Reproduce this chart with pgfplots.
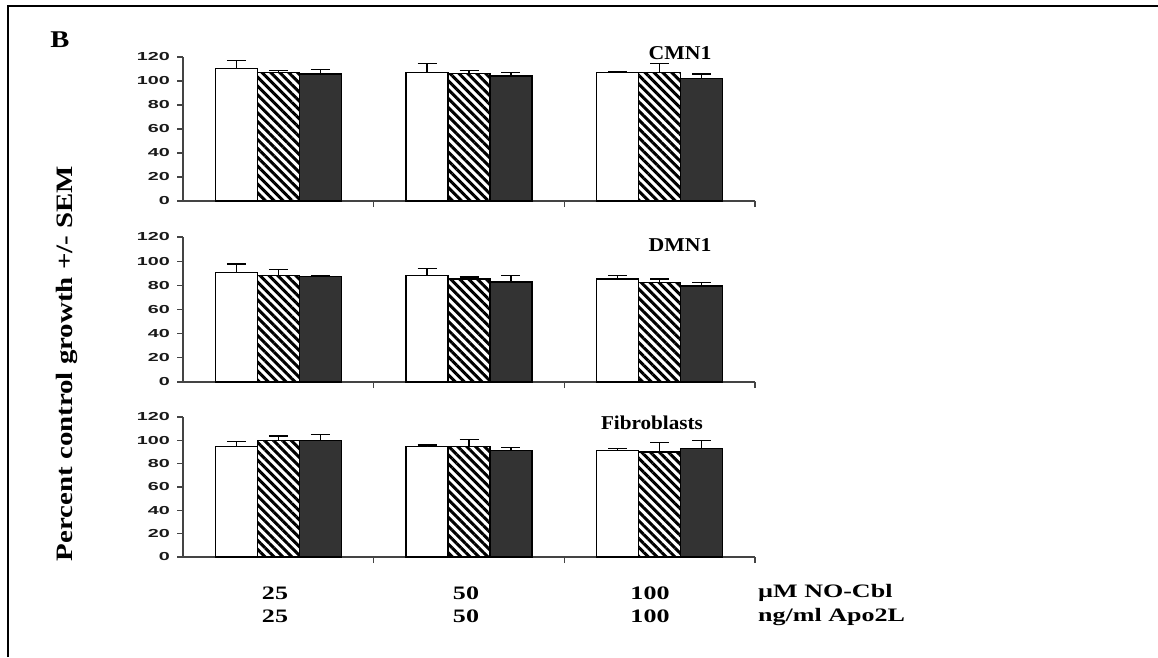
\documentclass[border=0pt]{standalone}
\usepackage{fontspec}
\setmainfont{Liberation Serif}
\newfontfamily\arialf{Liberation Sans}
\usepackage{pgfplots}
\pgfplotsset{compat=1.18}
\usetikzlibrary{patterns.meta}

\pgfplotstableread{
x y e
-0.22 110.6 6.4
0.78 107.2 7.2
1.78 107.2 0.6
}\cmnA
\pgfplotstableread{
x y e
0 107.2 1.4
1 106.4 2.2
2 107.2 7.2
}\cmnB
\pgfplotstableread{
x y e
0.22 105.8 3.6
1.22 104.2 2.7
2.22 102.2 3.6
}\cmnC

\pgfplotstableread{
x y e
-0.22 90.8 6.9
0.78 88.0 5.8
1.78 85.3 2.7
}\dmnA
\pgfplotstableread{
x y e
0 88.0 5.0
1 85.3 1.6
2 82.5 2.8
}\dmnB
\pgfplotstableread{
x y e
0.22 87.2 0.8
1.22 82.8 5.5
2.22 79.5 3.0
}\dmnC

\pgfplotstableread{
x y e
-0.22 94.8 4.1
0.78 94.8 1.2
1.78 91.2 1.7
}\fibA
\pgfplotstableread{
x y e
0 99.7 4.1
1 94.8 6.1
2 90.0 8.0
}\fibB
\pgfplotstableread{
x y e
0.22 99.7 5.2
1.22 91.2 2.8
2.22 93.1 6.9
}\fibC

\definecolor{darkbar}{HTML}{333333}
\definecolor{axisgray}{HTML}{444444}

\pgfplotsset{
  panel/.style={
    scale only axis, width=572pt,
    xmin=-0.5, xmax=2.5, ymin=0, ymax=120,
    ytick={0,20,...,120}, xtick={0.5,1.5,2.5}, xticklabels={},
    axis lines*=left, tick align=outside, major tick length=6pt,
    axis line style={line width=1.3pt, axisgray},
    tick style={line width=1.2pt, axisgray},
    yticklabel={\scalebox{1.7}[1]{\arialf\bfseries\pgfmathprintnumber[assume math mode=true]{\tick}}},
    yticklabel style={font=\arialf\bfseries\fontsize{11.6}{12}\selectfont, text=black!90, inner sep=1pt, xshift=-6pt},
    clip=false,
  },
  barcommon/.style={ybar, bar width=0.22, bar shift=0pt, draw=black, line width=1.3pt,
    error bars/y dir=plus, error bars/y explicit,
    error bars/error bar style={line width=1.3pt, draw=black, solid},
    error bars/error mark options={rotate=90, line width=1.3pt, mark size=9.5pt, draw=black, solid}},
  whitebar/.style={barcommon, fill=white},
  hatchbar/.style={barcommon, pattern={Lines[angle=-45, distance=6.3pt, line width=3pt]}, pattern color=black},
  blackbar/.style={barcommon, fill=darkbar},
}

\newcommand{\sx}[2]{\scalebox{#1}[1]{#2}}

\begin{document}
\begin{tikzpicture}
\useasboundingbox (0,0) rectangle (1158pt,657pt);
\draw[line width=2pt, black] (7.5pt,0pt) -- (7.5pt,651pt) -- (1158pt,651pt);

% Panel 1
\begin{axis}[panel, height=144pt, at={(183pt,456pt)}, anchor=south west]
\addplot[whitebar] table[x=x, y=y, y error=e] {\cmnA};
\addplot[hatchbar] table[x=x, y=y, y error=e] {\cmnB};
\addplot[blackbar] table[x=x, y=y, y error=e] {\cmnC};
\end{axis}

% Panel 2
\begin{axis}[panel, height=145pt, at={(183pt,275pt)}, anchor=south west]
\addplot[whitebar] table[x=x, y=y, y error=e] {\dmnA};
\addplot[hatchbar] table[x=x, y=y, y error=e] {\dmnB};
\addplot[blackbar] table[x=x, y=y, y error=e] {\dmnC};
\end{axis}

% Panel 3
\begin{axis}[panel, height=140pt, at={(183pt,100pt)}, anchor=south west]
\addplot[whitebar] table[x=x, y=y, y error=e] {\fibA};
\addplot[hatchbar] table[x=x, y=y, y error=e] {\fibB};
\addplot[blackbar] table[x=x, y=y, y error=e] {\fibC};
\end{axis}

\begin{scope}[every node/.style={font=\bfseries\fontsize{19.6}{20}\selectfont, inner sep=0pt}]
\node at (680pt,604pt) {\sx{1.11}{CMN1}};
\node at (680pt,412pt) {\sx{1.11}{DMN1}};
\node at (652pt,234pt) {\sx{1.08}{Fibroblasts}};
\end{scope}

\node[font=\bfseries\fontsize{24}{24}\selectfont, inner sep=0pt] at (60pt,617pt) {\sx{1.19}{B}};
\node[font=\bfseries\fontsize{23.5}{24}\selectfont, inner sep=0pt, rotate=90] at (67pt,293.5pt) {\sx{1.23}{Percent control growth +/- SEM}};

\begin{scope}[every node/.style={font=\bfseries\fontsize{19}{19}\selectfont, inner sep=0pt}]
\node at (275pt,64pt) {\sx{1.37}{25}};
\node at (466pt,64pt) {\sx{1.37}{50}};
\node at (650pt,64pt) {\sx{1.37}{100}};
\node[anchor=west] at (758pt,64pt) {\sx{1.37}{µM NO-Cbl}};
\node at (275pt,40.5pt) {\sx{1.37}{25}};
\node at (466pt,40.5pt) {\sx{1.37}{50}};
\node at (650pt,40.5pt) {\sx{1.37}{100}};
\node[anchor=west] at (758pt,40.5pt) {\sx{1.37}{ng/ml Apo2L}};
\end{scope}
\end{tikzpicture}
\end{document}
